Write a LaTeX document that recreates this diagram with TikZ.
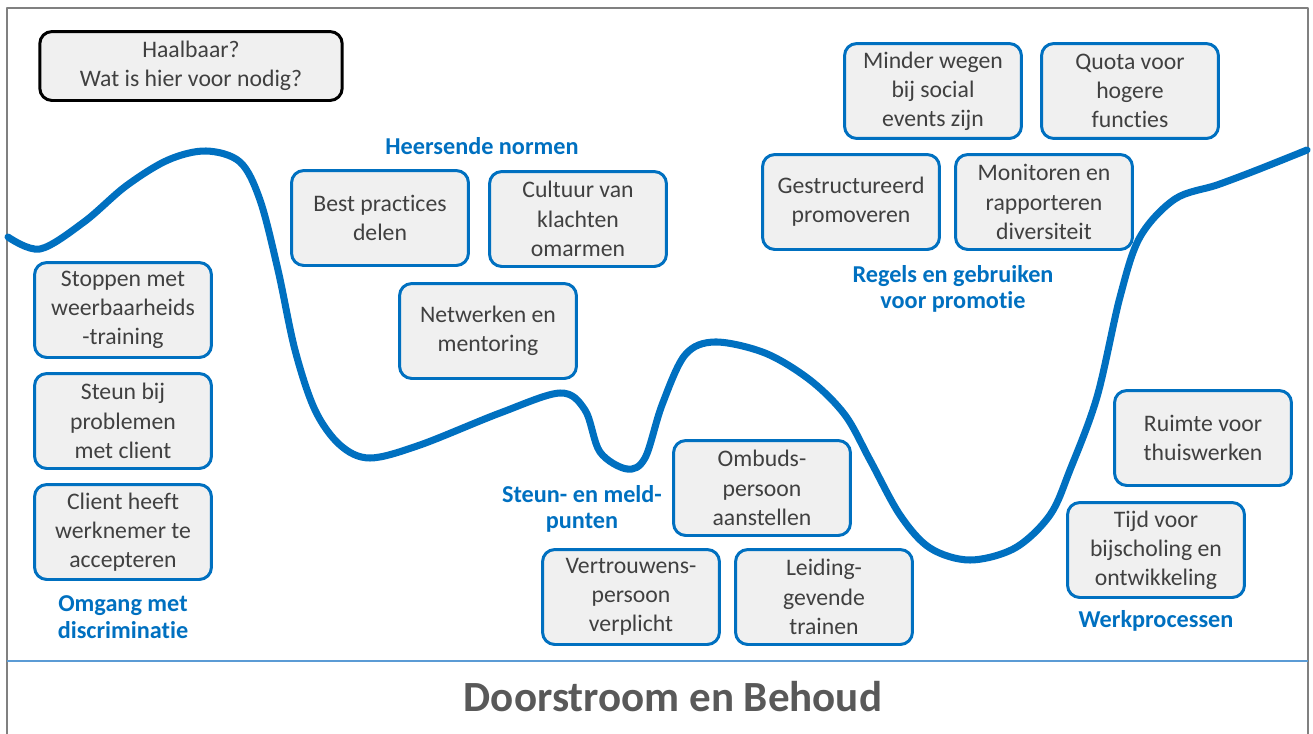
\documentclass[tikz,border=0pt]{standalone}
\usepackage{fontspec}
\setmainfont{Carlito}[Ligatures=NoCommon]
\definecolor{dbblue}{RGB}{0,112,192}
\definecolor{dbgray}{RGB}{240,240,240}
\definecolor{dbtext}{RGB}{64,64,64}
\definecolor{dbtitle}{RGB}{89,89,89}
\definecolor{dbline}{RGB}{91,155,213}
\begin{document}
\begin{tikzpicture}[x=0.02cm,y=-0.02cm,line cap=round,line join=round,
		box/.style={draw=dbblue,line width=1.7pt,fill=dbgray,rounded corners=7pt,minimum width=3.54cm,minimum height=1.9cm,inner sep=2pt,align=center,text=dbtext,font=\fontsize{13.5}{16.6}\selectfont},
		theme/.style={text=dbblue,align=center,font=\fontsize{13.8}{15}\selectfont\bfseries},
		curve/.style={draw=dbblue,line width=4pt}]
	\useasboundingbox (0,0) rectangle (1313,734);
	% frame and bottom bar
	\draw[gray,line width=1.1pt,line cap=butt] (7,734)--(7,8)--(1308,8)--(1308,734);
	\draw[dbline,line width=1.1pt,line cap=butt] (7,661)--(1308,661);
	% the curve
	\draw[curve] plot[smooth,tension=0.55] coordinates {(8,237) (40,249) (84,222) (126,186) (168,160) (206,151) (240,162) (260,200) (278,270) (295,350) (315,410) (340,445) (370,458) (420,445) (500,413) (560,393) (585,410) (600,452) (627,469) (645,458) (662,405) (685,355) (715,342) (765,353) (810,380) (845,415) (870,460) (900,515) (930,548) (970,560) (1015,548) (1050,515) (1070,470) (1097,397) (1120,297) (1140,237) (1175,199) (1217,185) (1257,170) (1307,150)};
	\node[box,draw=black,minimum width=6.05cm,minimum height=1.38cm] (haalbaar) at (191,66) {Haalbaar?\\Wat is hier voor nodig?};
	% omgang met discriminatie
	\node[box] (stoppen) at (123,310) {Stoppen met\\weerbaarheids\\-training};
	\node[box] (steun) at (123,421) {Steun bij\\problemen\\met client};
	\node[box] (client) at (123,532) {Client heeft\\werknemer te\\accepteren};
	\node[theme] (omgang) at (123,617) {Omgang met\\discriminatie};
	% heersende normen
	\node[theme] (normen) at (482,146) {Heersende normen};
	\node[box] (best) at (380,218) {Best practices\\delen};
	\node[box] (cultuur) at (578,219) {Cultuur van\\klachten\\omarmen};
	\node[box] (netwerk) at (488,331) {Netwerken en\\mentoring};
	% regels en gebruiken
	\node[box] (minder) at (933,91) {Minder wegen\\bij social\\events zijn};
	\node[box] (quota) at (1130,91) {Quota voor\\hogere\\functies};
	\node[box] (gestruct) at (851,202) {Gestructureerd\\promoveren};
	\node[box] (monitor) at (1044,202) {Monitoren en\\rapporteren\\diversiteit};
	\node[theme] (regels) at (953,289) {Regels en gebruiken\\voor promotie};
	% steun- en meldpunten
	\node[theme] (meld) at (582,509) {Steun- en meld-\\punten};
	\node[box] (ombuds) at (762,488) {Ombuds-\\persoon\\aanstellen};
	\node[box] (vertrouw) at (631,597) {Vertrouwens-\\persoon\\verplicht};
	\node[box] (leiding) at (824,597) {Leiding-\\gevende\\trainen};
	% werkprocessen
	\node[box] (ruimte) at (1203,438) {Ruimte voor\\thuiswerken};
	\node[box] (tijd) at (1156,550) {Tijd voor\\bijscholing en\\ontwikkeling};
	\node[theme] (werk) at (1156,621) {Werkprocessen};
	\node[text=dbtitle,font=\fontsize{24.5}{28}\selectfont\bfseries] (titel) at (673,697) {Doorstroom en Behoud};
\end{tikzpicture}
\end{document}
